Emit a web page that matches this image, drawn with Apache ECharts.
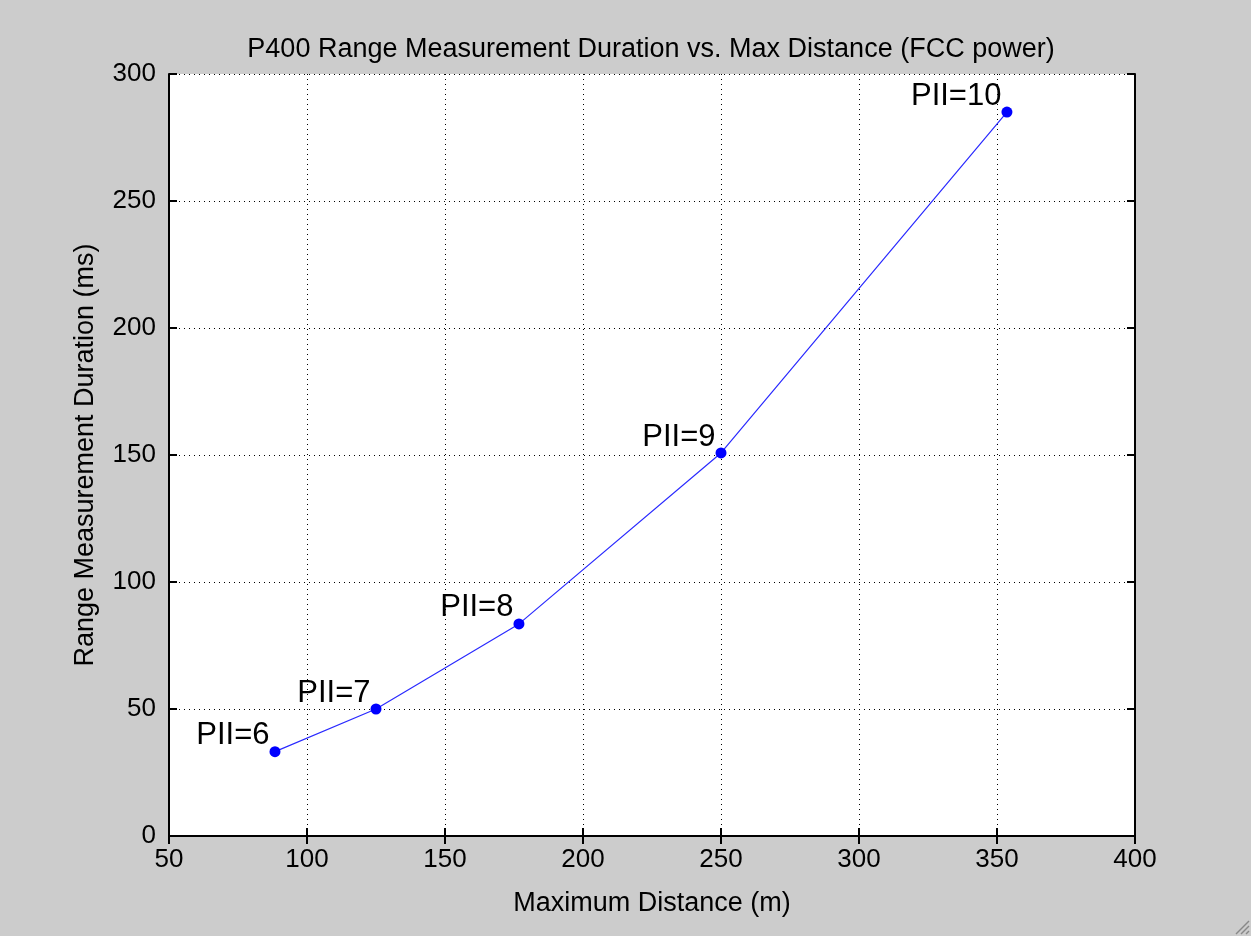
<!DOCTYPE html>
<html>
<head>
<meta charset="utf-8">
<script src="https://cdn.jsdelivr.net/npm/echarts@6/dist/echarts.min.js"></script>
<style>
  html, body { margin: 0; padding: 0; background: #cccccc; }
  #chart { width: 1251px; height: 936px; }
</style>
</head>
<body>
<div id="chart"></div>
<script>
// P400 range measurement duration vs. max distance
const pulseIntegration = ['PII=6', 'PII=7', 'PII=8', 'PII=9', 'PII=10'];
const maxDistance = [88.4, 125, 176.8, 250, 353.6];
const durationMs = [33.2, 50, 83.5, 150.8, 285];
const xTicks = [50, 100, 150, 200, 250, 300, 350, 400];
const yTicks = [0, 50, 100, 150, 200, 250, 300];

const font = 'Liberation Sans, Arial, sans-serif';

const chart = echarts.init(document.getElementById('chart'));

const points = maxDistance.map((d, i) => ({
  value: [d, durationMs[i]],
  label: { formatter: pulseIntegration[i] },
}));

const gridLine = {
  show: true,
  lineStyle: { color: '#000', type: [1, 4], width: 1 },
};

chart.setOption({
  backgroundColor: '#cccccc',
  animation: false,
  title: {
    text: 'P400 Range Measurement Duration vs. Max Distance (FCC power)',
    left: 646,
    textAlign: 'center',
    top: 31,
    textStyle: { fontFamily: font, fontSize: 27, fontWeight: 'normal', color: '#000' },
  },
  grid: {
    left: 169,
    top: 74,
    right: 116,
    bottom: 100,
    show: true,
    backgroundColor: '#fff',
    borderWidth: 0,
  },
  xAxis: [
    {
      type: 'value',
      min: xTicks[0],
      max: xTicks[xTicks.length - 1],
      interval: 50,
      name: 'Maximum Distance (m)',
      nameLocation: 'middle',
      nameGap: 54,
      nameTextStyle: { fontFamily: font, fontSize: 27, color: '#000' },
      axisLine: { show: true, lineStyle: { color: '#000', width: 2 } },
      axisTick: { show: true, inside: true, length: 8, lineStyle: { color: '#000', width: 2 } },
      axisLabel: { fontFamily: font, fontSize: 26, color: '#000', margin: 11 },
      splitLine: gridLine,
    },
    {
      type: 'value',
      position: 'top',
      min: xTicks[0],
      max: xTicks[xTicks.length - 1],
      interval: 50,
      axisLine: { show: true, lineStyle: { color: '#000', width: 2 } },
      axisTick: { show: true, inside: true, length: 8, lineStyle: { color: '#000', width: 2 } },
      axisLabel: { show: false },
      splitLine: { show: false },
    },
  ],
  yAxis: [
    {
      type: 'value',
      min: yTicks[0],
      max: yTicks[yTicks.length - 1],
      interval: 50,
      name: 'Range Measurement Duration (ms)',
      nameLocation: 'middle',
      nameGap: 70,
      nameTextStyle: { fontFamily: font, fontSize: 27, color: '#000' },
      axisLine: { show: true, lineStyle: { color: '#000', width: 2 } },
      axisTick: { show: true, inside: true, length: 8, lineStyle: { color: '#000', width: 2 } },
      axisLabel: { fontFamily: font, fontSize: 26, color: '#000', margin: 13 },
      splitLine: gridLine,
    },
    {
      type: 'value',
      position: 'right',
      min: yTicks[0],
      max: yTicks[yTicks.length - 1],
      interval: 50,
      axisLine: { show: true, lineStyle: { color: '#000', width: 2 } },
      axisTick: { show: true, inside: true, length: 8, lineStyle: { color: '#000', width: 2 } },
      axisLabel: { show: false },
      splitLine: { show: false },
    },
  ],
  series: [
    {
      type: 'line',
      data: points,
      symbol: 'circle',
      symbolSize: 11,
      itemStyle: { color: '#0000ff' },
      lineStyle: { color: '#2a2aff', width: 1.2 },
      label: {
        show: true,
        position: [0, 5],
        align: 'right',
        verticalAlign: 'bottom',
        fontFamily: font,
        fontSize: 31,
        color: '#000',
      },
    },
  ],
  graphic: [
    { type: 'line', shape: { x1: 1236, y1: 934, x2: 1249, y2: 921 }, style: { stroke: '#888', lineWidth: 1.5 } },
    { type: 'line', shape: { x1: 1241, y1: 934, x2: 1249, y2: 926 }, style: { stroke: '#888', lineWidth: 1.5 } },
    { type: 'line', shape: { x1: 1246, y1: 934, x2: 1249, y2: 931 }, style: { stroke: '#888', lineWidth: 1.5 } },
  ],
});
</script>
</body>
</html>
